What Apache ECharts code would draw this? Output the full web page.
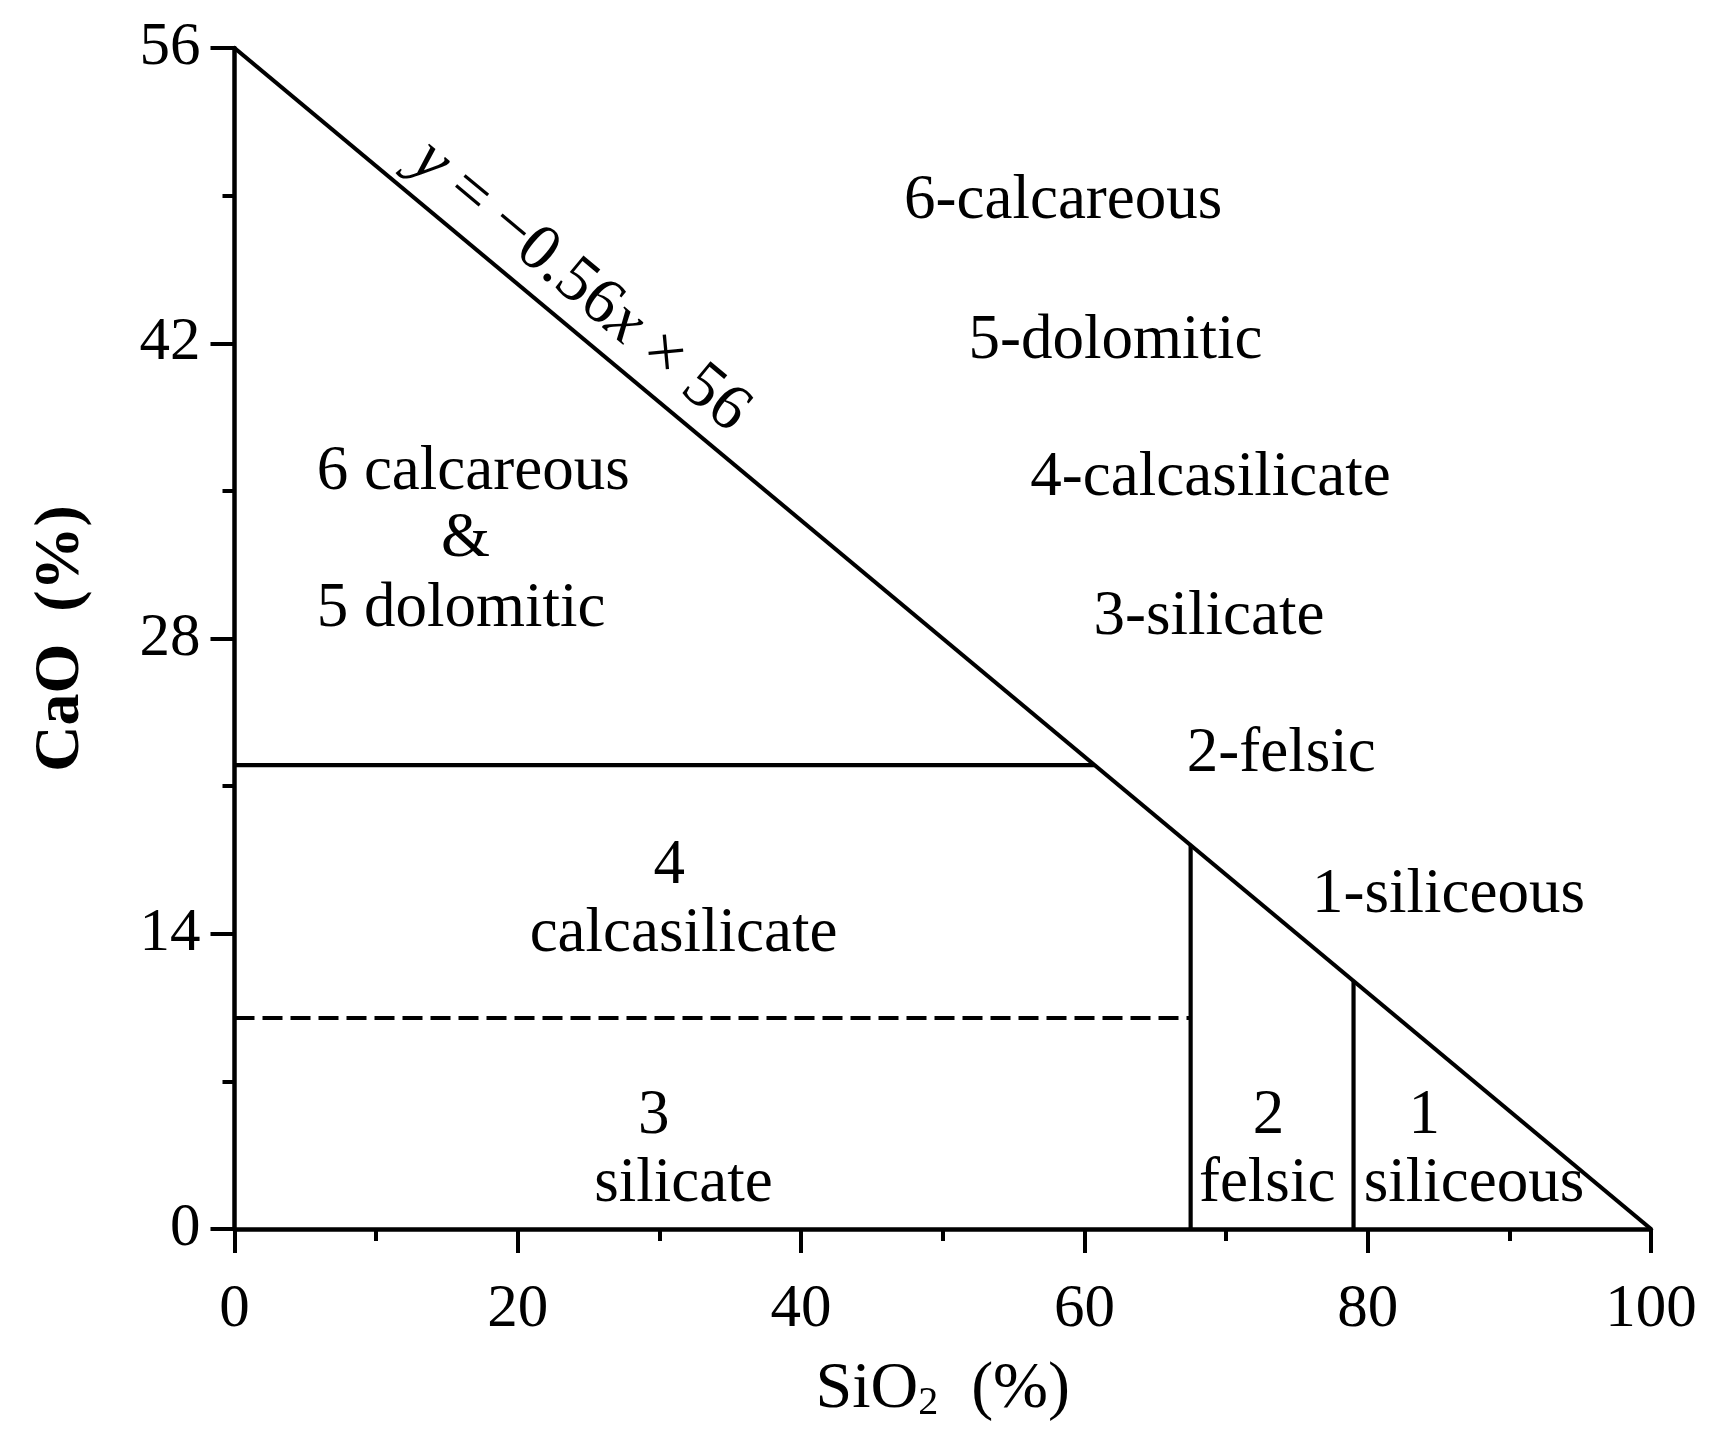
<!DOCTYPE html>
<html>
<head>
<meta charset="utf-8">
<script src="https://cdn.jsdelivr.net/npm/echarts@6/dist/echarts.min.js"></script>
<style>
html,body{margin:0;padding:0;background:#fff;}
#chart{width:1715px;height:1451px;}
</style>
</head>
<body>
<div id="chart"></div>
<script>
// ---- data ----
var xTicks = [0, 20, 40, 60, 80, 100];
var yTicks = [0, 14, 28, 42, 56];
// boundary line y = -0.56x + 56
var boundary = [[0, 56], [100, 0]];
// horizontal boundary at CaO = 22 (calcareous/dolomitic vs calcasilicate)
var calcLineY = 22;
// dashed boundary at CaO = 10 (calcasilicate vs silicate)
var silLineY = 10;
// vertical boundaries (SiO2 %)
var felsicX = 67.5;
var siliceousX = 79;

// region label texts and their anchor points (data coords)
var outsideLabels = ['6-calcareous', '5-dolomitic', '4-calcasilicate', '3-silicate', '2-felsic', '1-siliceous'];
var outsideX = [58.5, 62.2, 68.9, 68.8, 73.9, 85.7];
var outsideY = [48.7, 42.1, 35.6, 29.0, 22.5, 15.8];

var innerLabels = ['6 calcareous', '&', '5 dolomitic', '4', 'calcasilicate', '3', 'silicate', '2', 'felsic', '1', 'siliceous'];
var innerX = [5.8, 16.3, 5.8, 30.7, 31.7, 29.6, 31.7, 73.0, 72.9, 84.0, 87.5];
var innerY = [35.85, 32.7, 29.4, 17.2, 13.95, 5.35, 2.1, 5.35, 2.1, 5.35, 2.1];
var innerAlign = ['left', 'center', 'left', 'center', 'center', 'center', 'center', 'center', 'center', 'center', 'center'];

var eqText = '{i|y} = \u22120.56{i|x} \u00d7 56';
var eqPos = [24.4, 44.7];

// ---- derived ----
function onBoundary(x) { return 56 - 0.56 * x; }
var calcLine = [[0, calcLineY], [(56 - calcLineY) / 0.56, calcLineY]];
var silLine = [[0, silLineY], [felsicX, silLineY]];
var felsicLine = [[felsicX, 0], [felsicX, onBoundary(felsicX)]];
var silicLine = [[siliceousX, 0], [siliceousX, onBoundary(siliceousX)]];

var FONT = 'Liberation Serif';
var FS = 61;
var LFS = 63;
var LW = 4.2;

function lineSeries(data, type, width) {
  return {
    type: 'line', data: data, symbol: 'none', silent: true,
    lineStyle: { color: '#000', width: width || LW, type: type || 'solid', cap: 'butt', opacity: 1 },
    z: 3
  };
}

var labelData = [];
outsideLabels.forEach(function (t, i) {
  labelData.push({ value: [outsideX[i], outsideY[i]], name: t, label: { align: 'center' } });
});
innerLabels.forEach(function (t, i) {
  labelData.push({ value: [innerX[i], innerY[i]], name: t, label: { align: innerAlign[i] } });
});

var chart = echarts.init(document.getElementById('chart'), null, { renderer: 'canvas' });
chart.setOption({
  animation: false,
  backgroundColor: '#fff',
  grid: { left: 234.5, right: 64, top: 48, bottom: 222, containLabel: false },
  xAxis: {
    type: 'value', min: xTicks[0], max: xTicks[xTicks.length - 1], interval: 20,
    name: 'SiO{sub|2}  (%)', nameLocation: 'middle', nameGap: 128,
    nameTextStyle: {
      fontFamily: FONT, fontSize: 66, color: '#000',
      rich: { sub: { fontFamily: FONT, fontSize: 40, color: '#000', verticalAlign: 'bottom', padding: [26, 0, 0, 0] } }
    },
    axisLine: { lineStyle: { color: '#000', width: 4.5 } },
    axisTick: { length: 24, lineStyle: { color: '#000', width: 4 } },
    minorTick: { show: true, splitNumber: 2, length: 12, lineStyle: { color: '#000', width: 4 } },
    splitLine: { show: false },
    axisLabel: { fontFamily: FONT, fontSize: FS, color: '#000', margin: 50 }
  },
  yAxis: {
    type: 'value', min: yTicks[0], max: yTicks[yTicks.length - 1], interval: 14,
    name: 'CaO  (%)', nameLocation: 'middle', nameGap: 141,
    nameTextStyle: { fontFamily: FONT, fontSize: 64, fontWeight: 'bold', color: '#000' },
    axisLine: { lineStyle: { color: '#000', width: 4.5 } },
    axisTick: { length: 24, lineStyle: { color: '#000', width: 4 } },
    minorTick: { show: true, splitNumber: 2, length: 12, lineStyle: { color: '#000', width: 4 } },
    splitLine: { show: false },
    axisLabel: { fontFamily: FONT, fontSize: FS, color: '#000', margin: 34 }
  },
  series: [
    lineSeries(boundary),
    lineSeries(calcLine),
    lineSeries(silLine, [20, 8], 4),
    lineSeries(felsicLine),
    lineSeries(silicLine),
    {
      type: 'scatter', symbolSize: 0, silent: true, data: labelData, z: 5,
      itemStyle: { opacity: 1, color: '#000' },
      label: {
        show: true, position: 'inside', formatter: function (p) { return p.name; },
        fontFamily: FONT, fontSize: LFS, color: '#000', opacity: 1, verticalAlign: 'middle',
        textBorderWidth: 0, textShadowBlur: 0
      }
    },
    {
      type: 'scatter', symbolSize: 0, silent: true, z: 5,
      itemStyle: { opacity: 1, color: '#000' },
      data: [{ value: eqPos, name: eqText }],
      label: {
        show: true, position: 'inside', rotate: -39.8, opacity: 1,
        formatter: function (p) { return p.name; },
        fontFamily: FONT, fontSize: 66, color: '#000', align: 'center', verticalAlign: 'middle',
        textBorderWidth: 0,
        rich: { i: { fontFamily: FONT, fontStyle: 'italic', fontSize: 66, color: '#000', textBorderWidth: 0 } }
      }
    }
  ]
});
</script>
</body>
</html>
